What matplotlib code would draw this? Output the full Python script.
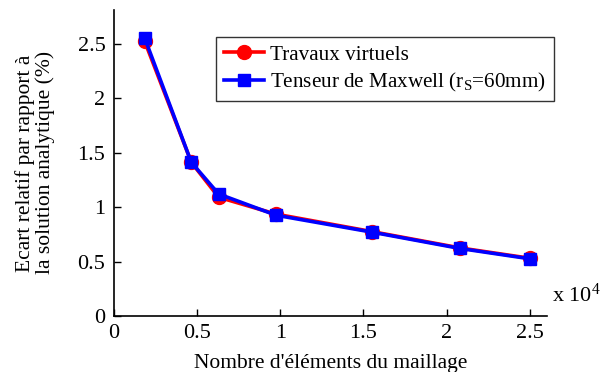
import matplotlib
matplotlib.use("Agg")
import matplotlib.pyplot as plt

x_vals = [1860, 4660, 6300, 9750, 15500, 20800, 25000]
travaux = [2.52, 1.41, 1.09, 0.935, 0.775, 0.625, 0.53]
maxwell = [2.55, 1.41, 1.12, 0.925, 0.77, 0.62, 0.525]
xticks = [0, 5000, 10000, 15000, 20000, 25000]
xticklabels = ["0", "0.5", "1", "1.5", "2", "2.5"]
yticks = [0, 0.5, 1, 1.5, 2, 2.5]
yticklabels = ["0", "0.5", "1", "1.5", "2", "2.5"]

plt.rcParams['font.family'] = ['Liberation Serif', 'DejaVu Serif']
plt.rcParams['mathtext.fontset'] = 'custom'
plt.rcParams['mathtext.rm'] = 'Liberation Serif'
plt.rcParams['mathtext.it'] = 'Liberation Serif:italic'

fig = plt.figure(figsize=(6.02, 3.72), dpi=100)
ax = fig.add_axes([0.189, 0.1505, 0.719, 0.823])

ax.plot(x_vals, travaux, color='#ff0000', lw=2.6, marker='o', ms=10,
        label='Travaux virtuels', zorder=3)
ax.plot(x_vals, maxwell, color='#0000ff', lw=2.6, marker='s', ms=8.5,
        label=r'Tenseur de Maxwell (r$_{\mathrm{S}}$=60mm)', zorder=4)

ax.set_xlim(0, 26000)
ax.set_ylim(0, 2.81)
ax.set_xticks(xticks)
ax.set_xticklabels(xticklabels)
ax.set_yticks(yticks)
ax.set_yticklabels(yticklabels)
ax.tick_params(direction='in', length=5, width=1, labelsize=16, pad=6)
for s in ['top', 'right']:
    ax.spines[s].set_visible(False)
for s in ['left', 'bottom']:
    ax.spines[s].set_linewidth(1.2)

ax.set_xlabel("Nombre d'éléments du maillage", fontsize=15.5, labelpad=7.5)
ax.set_ylabel("Ecart relatif par rapport à\nla solution analytique (%)", fontsize=15.5,
              labelpad=16, linespacing=1.05)

ax.text(1.012, 0.03, r'x 10$^{4}$', transform=ax.transAxes, fontsize=16,
        ha='left', va='bottom')

leg = ax.legend(loc='upper right', bbox_to_anchor=(1.016, 0.91), fontsize=15.2,
                frameon=True, fancybox=False, edgecolor='black',
                handlelength=1.9, borderpad=0.35, labelspacing=0.3,
                handletextpad=0.3, borderaxespad=0.0)
leg.get_frame().set_linewidth(1.0)

fig.savefig('out.png', dpi=100)
